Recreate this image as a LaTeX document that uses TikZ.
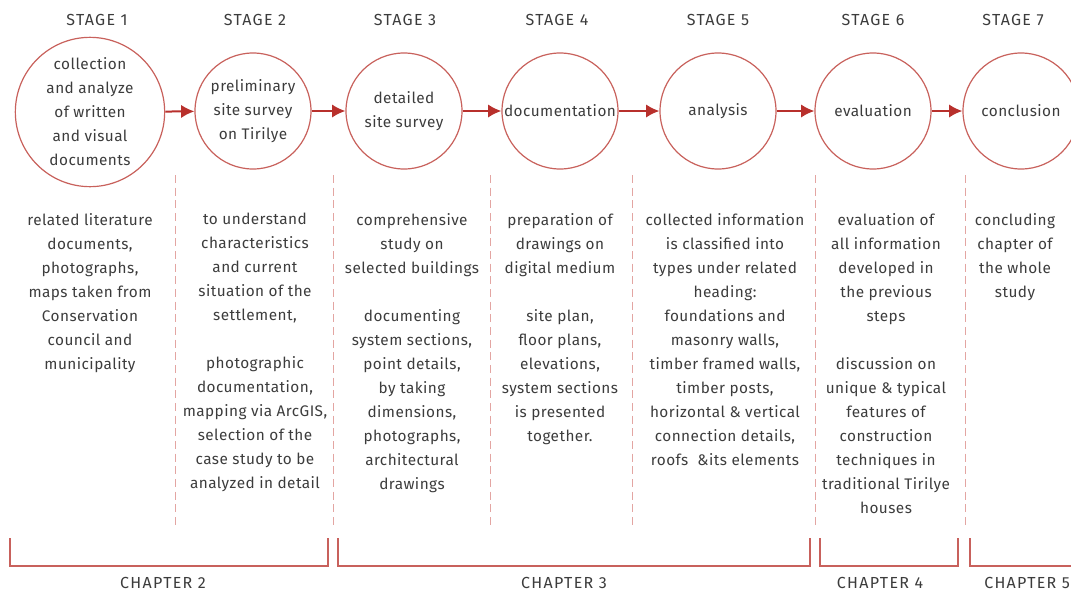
\documentclass[tikz,border=0pt]{standalone}
\usepackage{fontspec}
\setmainfont{Fira Sans}[LetterSpace=3]
\newcommand{\capsfont}{\fontsize{12}{18}\selectfont\addfontfeature{LetterSpace=8}}
\usepackage{tikz}
\usetikzlibrary{arrows.meta,positioning}
\definecolor{Ring}{HTML}{C8615C}
\definecolor{Flow}{HTML}{B8302C}
\definecolor{Split}{HTML}{E3A5A2}
\definecolor{Ink}{HTML}{3C3C3C}
\tikzset{
stagecircle/.style={circle, draw=Ring, line width=0.9pt, minimum size=87pt, inner sep=0pt, align=center, text=Ink},
stagebig/.style={stagecircle, minimum size=112pt},
stagehead/.style={text=Ink, inner sep=0pt, font=\capsfont},
stagetext/.style={anchor=north, align=center, text=Ink, inner sep=0pt},
stageflow/.style={-{Latex[length=10pt,width=10pt]}, line width=1.5pt, draw=Flow},
stagesplit/.style={draw=Split, line width=0.7pt, dash pattern=on 6pt off 3.5pt},
chapterbrace/.style={draw=Ring, line width=1.1pt},
chapterhead/.style={text=Ink, inner sep=0pt, font=\capsfont}
}

\begin{document}
\begin{tikzpicture}[x=0.75pt, y=-0.75pt, font=\fontsize{11.5}{18}\selectfont, >=Latex]
  \useasboundingbox (0,0) rectangle (1071,593);
  \clip (0,0) rectangle (1071,593);
  % stage headings
  \node[stagehead] (headone) at (97,20) {STAGE 1};
  \node[stagehead] (headtwo) at (255,20) {STAGE 2};
  \node[stagehead] (headthree) at (405,20) {STAGE 3};
  \node[stagehead] (headfour) at (557,20) {STAGE 4};
  \node[stagehead] (headfive) at (718,20) {STAGE 5};
  \node[stagehead] (headsix) at (873,20) {STAGE 6};
  \node[stagehead] (headseven) at (1013,20) {STAGE 7};
  % stages
  \node[stagebig] (collect) at (90,112) {collection\\and analyze\\of written\\and visual\\documents};
  \node[stagecircle] (prelim) at (253,111) {preliminary\\site survey\\on Tirilye};
  \node[stagecircle] (detail) at (404,111) {detailed\\site survey};
  \node[stagecircle] (docu) at (560,111) {documentation};
  \node[stagecircle] (analysis) at (718,111) {analysis};
  \node[stagecircle] (evaluation) at (873,111) {evaluation};
  \node[stagecircle] (conclusion) at (1021,111) {conclusion};
  \draw[stageflow] (collect) -- (prelim);
  \draw[stageflow] (prelim) -- (detail);
  \draw[stageflow] (detail) -- (docu);
  \draw[stageflow] (docu) -- (analysis);
  \draw[stageflow] (analysis) -- (evaluation);
  \draw[stageflow] (evaluation) -- (conclusion);
  % column separators
  \draw[stagesplit] (175,175) -- (175,526);
  \draw[stagesplit] (333,175) -- (333,526);
  \draw[stagesplit] (490,175) -- (490,526);
  \draw[stagesplit] (632,175) -- (632,526);
  \draw[stagesplit] (815,175) -- (815,526);
  \draw[stagesplit] (965,175) -- (965,526);
  % stage descriptions
  \node[stagetext] (textone) at (90,213) {related literature\\documents,\\photographs,\\maps taken from\\Conservation\\council and\\municipality};
  \node[stagetext] (texttwo) at (255,213) {to understand\\characteristics\\and current\\situation of the\\settlement,\\[18pt]photographic\\documentation,\\mapping via ArcGIS,\\selection of the\\case study to be\\analyzed in detail};
  \node[stagetext] (textthree) at (412,213) {comprehensive\\study on\\selected buildings\\[18pt]documenting\\system sections,\\point details,\\by taking\\dimensions,\\photographs,\\architectural\\drawings};
  \node[stagetext] (textfour) at (560,213) {preparation of\\drawings on\\digital medium\\[18pt]site plan,\\floor plans,\\elevations,\\system sections\\is presented\\together.};
  \node[stagetext] (textfive) at (725,213) {collected information\\is classified into\\types under related\\heading:\\foundations and\\masonry walls,\\timber framed walls,\\timber posts,\\horizontal \& vertical\\connection details,\\roofs\ \ \&its elements};
  \node[stagetext] (textsix) at (886,213) {evaluation of\\all information\\developed in\\the previous\\steps\\[18pt]discussion on\\unique \& typical\\features of\\construction\\techniques in\\traditional Tirilye\\houses};
  \node[stagetext] (textseven) at (1015,213) {concluding\\chapter of\\the whole\\study};
  % chapter brackets
  \draw[chapterbrace] (10,538) -- (10,566) -- (328,566) -- (328,538);
  \draw[chapterbrace] (338,538) -- (338,566) -- (810,566) -- (810,538);
  \draw[chapterbrace] (820,538) -- (820,566) -- (958,566) -- (958,538);
  \draw[chapterbrace] (970,538) -- (970,566) -- (1090,566);
  \node[chapterhead] (chaptwo) at (163,583) {CHAPTER 2};
  \node[chapterhead] (chapthree) at (564,583) {CHAPTER 3};
  \node[chapterhead] (chapfour) at (880,583) {CHAPTER 4};
  \node[chapterhead, anchor=west] (chapfive) at (984,583) {CHAPTER 5};
\end{tikzpicture}
\end{document}
